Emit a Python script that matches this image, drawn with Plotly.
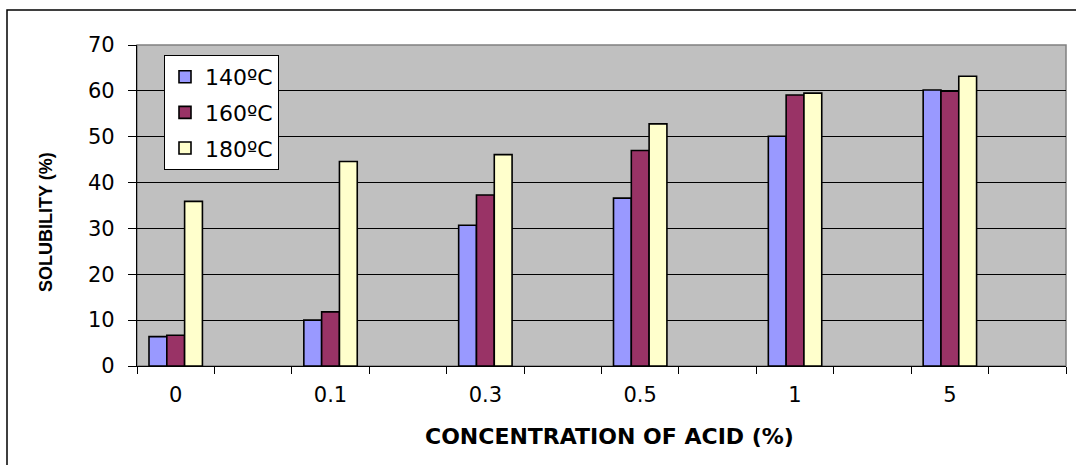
import plotly.graph_objects as go

# Acid concentration (%) for each group of bars
concentrations = ["0", "0.1", "0.3", "0.5", "1", "5"]

# Solubility (%) at each treatment temperature
sol_140 = [6.4, 10.0, 30.7, 36.6, 50.1, 60.2]
sol_160 = [6.7, 11.8, 37.3, 47.0, 59.1, 59.9]
sol_180 = [35.9, 44.6, 46.1, 52.8, 59.5, 63.2]

series_names = ["140ºC", "160ºC", "180ºC"]
series_colors = ["#9999FF", "#993366", "#FFFFCC"]

# Each concentration gets its own slot followed by an empty slot
slots, slot_text = [], []
for c in concentrations:
    slots += [c, c + " (blank)"]
    slot_text += [c, ""]


def spread(values):
    out = []
    for v in values:
        out += [v, None]
    return out


fig = go.Figure()
for name, vals, col in zip(series_names, [sol_140, sol_160, sol_180], series_colors):
    fig.add_trace(go.Bar(
        x=slots, y=spread(vals), name=name, legendgroup=name,
        marker=dict(color=col, line=dict(color="black", width=1.6)),
    ))

axis_font = dict(family="DejaVu Sans", size=21, color="black")

fig.update_layout(
    width=1076, height=465,
    margin=dict(l=137, r=10, t=45, b=99),
    paper_bgcolor="white", plot_bgcolor="#C0C0C0",
    barmode="group", bargap=0.31, bargroupgap=0,
    showlegend=True,
    legend=dict(
        x=(164 - 137) / 929, y=(366 - 55) / 321, xanchor="left", yanchor="top",
        bgcolor="white", bordercolor="black", borderwidth=1,
        font=dict(family="DejaVu Sans", size=22, color="black"),
        tracegroupgap=4, traceorder="grouped",
    ),
    xaxis=dict(
        type="category", categoryorder="array", categoryarray=slots,
        tickmode="array", tickvals=slots, ticktext=slot_text,
        tickson="boundaries", ticks="outside", ticklen=7, tickcolor="black",
        showline=True, linecolor="black", linewidth=1.2,
        showgrid=False, tickfont=axis_font, ticklabelstandoff=10,
    ),
    yaxis=dict(
        range=[0, 70], dtick=10, ticks="outside", ticklen=8, tickcolor="black",
        showline=True, linecolor="black", linewidth=1.2,
        showgrid=True, gridcolor="black", gridwidth=1,
        zeroline=False, tickfont=axis_font, ticklabelstandoff=9,
    ),
    shapes=[
        # plot-area frame
        dict(type="rect", xref="paper", yref="paper", x0=0, x1=1, y0=0, y1=1,
             line=dict(color="#808080", width=1.5), layer="below"),
        # outer chart frame
        dict(type="rect", xref="paper", yref="paper",
             x0=(7 - 137) / 929, x1=(1090 - 137) / 929,
             y0=(366 - 480) / 321, y1=(366 - 10) / 321,
             line=dict(color="black", width=1.5)),
    ],
    annotations=[
        dict(text="<b>SOLUBILITY (%)</b>", xref="paper", yref="paper",
             x=(46 - 137) / 929, y=(366 - 222) / 321, textangle=-90,
             showarrow=False, xanchor="center", yanchor="middle",
             font=dict(family="Liberation Sans", size=18, color="black")),
        dict(text="<b>CONCENTRATION OF ACID (%)</b>", xref="paper", yref="paper",
             x=(609 - 137) / 929, y=(366 - 436) / 321,
             showarrow=False, xanchor="center", yanchor="middle",
             font=dict(family="DejaVu Sans", size=22, color="black")),
    ],
)

fig.write_html("out.html")
